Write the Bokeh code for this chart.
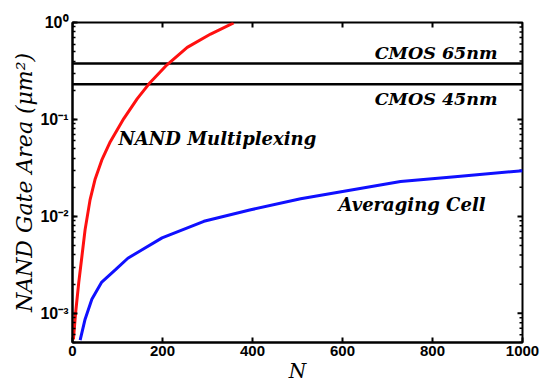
import math
from bokeh.plotting import figure
from bokeh.models import Label, CustomJSTickFormatter, Range1d, FixedTicker
from bokeh.embed import file_html
from bokeh.resources import INLINE

# --- data ---
nand_n = [2, 7, 14, 21, 28, 39, 50, 65, 84, 114, 144, 170, 210, 255, 307, 358]
nand_area = [5.4e-4, 1.02e-3, 2.1e-3, 3.9e-3, 7.3e-3, 0.0148, 0.024, 0.038,
             0.059, 0.102, 0.164, 0.233, 0.366, 0.554, 0.76, 0.99]

avg_n = [17, 28, 43, 65, 95, 123, 150, 199, 292, 396, 507, 729, 850, 1000]
avg_area = [5.3e-4, 8.7e-4, 1.4e-3, 2.1e-3, 2.8e-3, 3.7e-3, 4.4e-3, 6.0e-3,
            8.9e-3, 0.0117, 0.0152, 0.0229, 0.0257, 0.0296]

cmos_labels = ["CMOS  65nm", "CMOS  45nm"]
cmos_area = [0.377, 0.23]

x_ticks = [0, 200, 400, 600, 800, 1000]
y_exps = [-3, -2, -1, 0]
y_tick_labels = ["10\u207b\u00b3", "10\u207b\u00b2", "10\u207b\u00b9", "10\u2070"]

X_MIN, X_MAX = 0, 1000
Y_MIN, Y_MAX = 5e-4, 1.0

p = figure(width=541, height=385, output_backend="svg", toolbar_location=None,
           x_axis_type="linear", y_axis_type="log",
           x_range=Range1d(X_MIN, X_MAX), y_range=Range1d(Y_MIN, Y_MAX),
           min_border_left=72, min_border_right=19, min_border_top=22,
           min_border_bottom=42)
p.xgrid.visible = False
p.ygrid.visible = False
p.outline_line_color = "black"
p.outline_line_width = 2
p.background_fill_color = "white"
p.border_fill_color = "white"

tick_font = "Liberation Sans"
serif = "DejaVu Serif"

xa = p.xaxis[0]
xa.ticker = FixedTicker(ticks=x_ticks)
ya = p.yaxis[0]
ya.formatter = CustomJSTickFormatter(args=dict(labels=y_tick_labels, exps=y_exps), code="""
const e = Math.round(Math.log10(tick));
const i = exps.indexOf(e);
return i >= 0 ? labels[i] : "";
""")
for ax in (xa, ya):
    ax.axis_line_color = "black"
    ax.axis_line_width = 2
    ax.major_tick_in = 5
    ax.major_tick_out = 0
    ax.minor_tick_in = 3
    ax.minor_tick_out = 0
    ax.major_tick_line_width = 2
    ax.minor_tick_line_width = 1.5
    ax.major_label_text_font = tick_font
    ax.major_label_text_font_style = "bold"
    ax.major_label_text_color = "black"
    ax.axis_label_text_font = serif
    ax.axis_label_text_font_style = "italic"
    ax.axis_label_text_color = "black"
    ax.axis_label_standoff = 0
xa.major_label_text_font_size = "15px"
xa.major_label_standoff = 3
ya.major_label_text_font_size = "16px"
ya.major_label_standoff = 4
xa.minor_tick_line_color = None
xa.axis_label = "N"
xa.axis_label_text_font_size = "20px"
ya.axis_label = "NAND Gate Area (\u03bcm\u00b2)"
ya.axis_label_text_font_size = "22px"

# inward ticks on the top and right edges of the box
y_major = [10.0 ** e for e in y_exps]
y_minor = [k * 10.0 ** e for e in range(-4, 0) for k in range(2, 10)
           if Y_MIN <= k * 10.0 ** e <= Y_MAX]
p.ray(x=x_ticks, y=[Y_MAX] * len(x_ticks), length=5, length_units="screen",
      angle=-math.pi / 2, line_color="black", line_width=2)
p.ray(x=[X_MAX] * len(y_major), y=y_major, length=5, length_units="screen",
      angle=math.pi, line_color="black", line_width=2)
p.ray(x=[X_MAX] * len(y_minor), y=y_minor, length=3, length_units="screen",
      angle=math.pi, line_color="black", line_width=1.5)

# horizontal CMOS lines
for a in cmos_area:
    p.line([X_MIN, X_MAX], [a, a], line_color="black", line_width=2.5)

p.line(nand_n, nand_area, line_color="#ff1010", line_width=3)
p.line(avg_n, avg_area, line_color="#1010ff", line_width=3)

def lab(x, y, text, size, align="left", style="bold italic"):
    p.add_layout(Label(x=x, y=y, text=text, x_units="data", y_units="data",
                       text_font=serif, text_font_style=style,
                       text_font_size=size, text_align=align,
                       text_baseline="middle", text_color="black"))

lab(958, 0.489, cmos_labels[0], "17.5px", align="right")
lab(958, 0.161, cmos_labels[1], "17.5px", align="right")
lab(102, 0.064, "NAND Multiplexing", "18px")
lab(591, 0.0132, "Averaging Cell", "18px")

open("out.html", "w").write(file_html(p, INLINE))
